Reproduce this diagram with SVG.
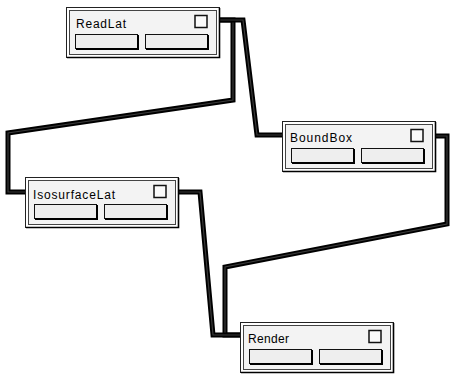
<svg xmlns="http://www.w3.org/2000/svg" width="450" height="374" viewBox="0 0 450 374">
  <style>
    .wire { fill: none; stroke: #000; stroke-width: 5; stroke-linejoin: miter; }
    .core { fill: none; stroke: #3a3a3a; stroke-width: 1.2; stroke-linejoin: miter; }
    .frame { fill: #fff; stroke: #222; stroke-width: 1; }
    .panel { fill: #f3f3f3; stroke: #444; stroke-width: 1; }
    .shade { fill: none; stroke: #000; stroke-width: 1.6; }
    .btn { fill: #eeeeee; stroke: #111; stroke-width: 1; }
    .btnshade { fill: none; stroke: #000; stroke-width: 2; }
    .chk { fill: #fafafa; stroke: #111; stroke-width: 1.5; }
    .label { font-family: "Liberation Sans", Arial, sans-serif; font-size: 12px; fill: #000; }
  </style>
  <defs>
    <!-- shared module body: frame, panel, toggle box and two port buttons -->
    <g id="module">
      <rect class="frame" x="0.5" y="0.5" width="153" height="50"/>
      <polyline class="shade" points="1,50.5 153.5,50.5 153.5,1"/>
      <rect class="panel" x="3.5" y="3.5" width="147" height="44"/>
      <rect class="chk" x="129" y="8.5" width="12" height="12"/>
      <rect class="btn" x="9.5" y="27.5" width="62" height="14"/>
      <polyline class="btnshade" points="10,42 72,42 72,28"/>
      <rect class="btn" x="79.5" y="27.5" width="62" height="14"/>
      <polyline class="btnshade" points="80,42 142,42 142,28"/>
    </g>
  </defs>

  <g id="connectors">
    <!-- ReadLat -> IsosurfaceLat -->
    <path class="wire" d="M220,20 H233 V100 L8,133 V192 H25"/>
    <path class="core" d="M220,20 H233 V100 L8,133 V192 H25"/>
    <!-- ReadLat -> BoundBox -->
    <path class="wire" d="M220,20 H243 L257,135 H282"/>
    <path class="core" d="M220,20 H243 L257,135 H282"/>
    <!-- BoundBox -> Render -->
    <path class="wire" d="M436,136 H447 V224 L225,267 V335 H240"/>
    <path class="core" d="M436,136 H447 V224 L225,267 V335 H240"/>
    <!-- IsosurfaceLat -> Render -->
    <path class="wire" d="M179,192 H200 L213,335 H240"/>
    <path class="core" d="M179,192 H200 L213,335 H240"/>
  </g>

  <g id="ReadLat" transform="translate(66,7)">
    <use href="#module"/>
    <text class="label" x="10" y="21" textLength="50" lengthAdjust="spacing">ReadLat</text>
  </g>

  <g id="BoundBox" transform="translate(282,121)">
    <use href="#module"/>
    <text class="label" x="8" y="21" textLength="62" lengthAdjust="spacing">BoundBox</text>
  </g>

  <g id="IsosurfaceLat" transform="translate(25,177)">
    <use href="#module"/>
    <text class="label" x="8" y="22" textLength="82" lengthAdjust="spacing">IsosurfaceLat</text>
  </g>

  <g id="Render" transform="translate(240,322)">
    <use href="#module"/>
    <text class="label" x="8" y="21" textLength="41" lengthAdjust="spacing">Render</text>
  </g>
</svg>
